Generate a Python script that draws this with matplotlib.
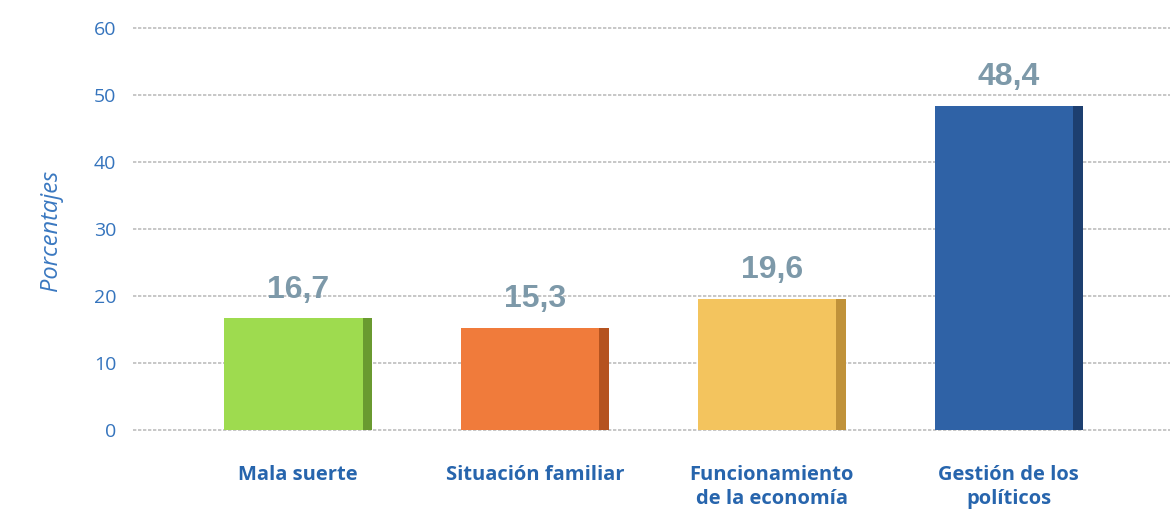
import numpy as np
import matplotlib.pyplot as plt

categories = ["Mala suerte", "Situación familiar", "Funcionamiento\nde la economía", "Gestión de los\npolíticos"]
values = [16.7, 15.3, 19.6, 48.4]
labels = ["16,7", "15,3", "19,6", "48,4"]
colors = ["#9edb4f", "#f07b3b", "#f3c45e", "#2f62a6"]
sides = ["#6a9a30", "#b5531f", "#c0923a", "#1d3f70"]
yticks = [0, 10, 20, 30, 40, 50, 60]

fig = plt.figure(figsize=(11.7, 5.13), dpi=100)
ax = fig.add_axes([133/1170, 72/513, 1 - 133/1170, 421/513])

x = np.arange(len(values))
w = 0.625
ax.bar(x, values, width=w, color=colors, zorder=3)
# darker right side for a bit of depth
ax.bar(x + w/2 - 0.02, values, width=0.04, color=sides, zorder=4)

for xi, v, lab in zip(x, values, labels):
    ax.text(xi, v + 2.0, lab, ha="center", va="bottom", fontsize=23,
            fontweight="bold", color="#7d99a9", family="Liberation Sans", zorder=5)

ax.set_xlim(-0.696, 3.68)
ax.set_ylim(-1.64, 61.2)
ax.set_yticks(yticks)
ax.set_yticklabels([str(t) for t in yticks], color="#3574bd", fontsize=14, family="Open Sans")
ax.yaxis.grid(True, color="#bdbdbd", linestyle=(0, (2, 1)), linewidth=1.2, zorder=0)
ax.tick_params(axis="y", length=0, pad=12)
ax.set_xticks(x)
ax.set_xticklabels(categories, color="#2765ad", fontsize=14.5, fontweight="bold",
                   family="Open Sans", linespacing=1.3)
ax.tick_params(axis="x", length=0, pad=17)
for s in ax.spines.values():
    s.set_visible(False)

ax.set_ylabel("Porcentajes", color="#3a78c0", fontsize=17, style="italic",
              family="Open Sans", labelpad=22)

plt.savefig("out.png", dpi=100)
